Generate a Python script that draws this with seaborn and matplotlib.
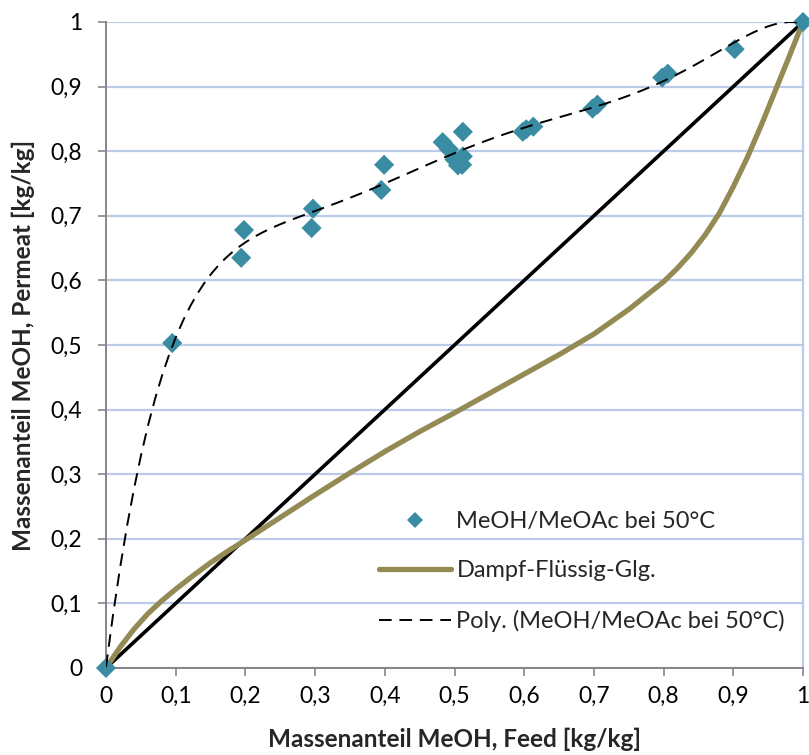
import matplotlib
matplotlib.use("Agg")
import matplotlib.pyplot as plt
import matplotlib.ticker as mticker
import seaborn as sns
import pandas as pd
from matplotlib.lines import Line2D

# ---- data ----
feed_meas = [0.0, 0.095, 0.194, 0.198, 0.295, 0.297, 0.395, 0.399,
             0.483, 0.492, 0.500, 0.505, 0.511, 0.512, 0.512,
             0.598, 0.603, 0.613, 0.698, 0.705, 0.798, 0.806, 0.902, 1.0]
perm_meas = [0.0, 0.503, 0.635, 0.678, 0.681, 0.711, 0.740, 0.779,
             0.814, 0.803, 0.787, 0.778, 0.779, 0.792, 0.830,
             0.830, 0.834, 0.838, 0.866, 0.872, 0.914, 0.920, 0.958, 1.0]

vle_x = [0.0, 0.02, 0.04, 0.06, 0.08, 0.1, 0.125, 0.15, 0.175, 0.2, 0.25,
         0.3, 0.35, 0.4, 0.45, 0.5, 0.55, 0.6, 0.65, 0.7, 0.75, 0.8, 0.82,
         0.84, 0.86, 0.88, 0.9, 0.92, 0.94, 0.96, 0.98, 1.0]
vle_y = [0.0, 0.032, 0.060, 0.084, 0.104, 0.122, 0.143, 0.163, 0.181, 0.198,
         0.233, 0.268, 0.302, 0.335, 0.366, 0.395, 0.425, 0.455, 0.485, 0.517,
         0.555, 0.598, 0.619, 0.643, 0.671, 0.704, 0.745, 0.790, 0.840, 0.893,
         0.946, 1.0]

diag_x = [0.0, 1.0]
diag_y = [0.0, 1.0]

ticks = [0, 0.1, 0.2, 0.3, 0.4, 0.5, 0.6, 0.7, 0.8, 0.9, 1.0]

lbl_meas = "MeOH/MeOAc bei 50°C"
lbl_vle = "Dampf-Flüssig-Glg."
lbl_poly = "Poly. (MeOH/MeOAc bei 50°C)"

# ---- style ----
sns.set_theme(style="white")
plt.rcParams['font.family'] = ['Lato', 'DejaVu Sans']

teal = "#3A8CA2"
olive = "#948A54"
grid_c = "#BCCBEA"
spine_c = "#868686"

fig = plt.figure(figsize=(8.09, 7.55), dpi=100)
ax = fig.add_axes([106/809, 1 - 668/755, 697/809, 646/755])

df_meas = pd.DataFrame({"x": feed_meas, "y": perm_meas})
df_vle = pd.DataFrame({"x": vle_x, "y": vle_y})
df_diag = pd.DataFrame({"x": diag_x, "y": diag_y})

sns.lineplot(data=df_diag, x="x", y="y", ax=ax, color="black", lw=2.6,
             zorder=3, sort=False)
sns.lineplot(data=df_vle, x="x", y="y", ax=ax, color=olive, lw=3.8,
             zorder=4, sort=False)
sns.scatterplot(data=df_meas, x="x", y="y", ax=ax, marker="D", s=105,
                color=teal, edgecolor="none", linewidth=0, zorder=5,
                clip_on=False)
sns.regplot(data=df_meas, x="x", y="y", ax=ax, order=6, ci=None,
            scatter=False, truncate=True,
            line_kws=dict(color="black", lw=1.4, ls=(0, (6.5, 4)), zorder=6))

ax.set_xlim(0, 1)
ax.set_ylim(0, 1)
ax.set_xticks(ticks)
ax.set_yticks(ticks)
fmt = mticker.FuncFormatter(lambda v, p: ("%g" % round(v, 1)).replace(".", ","))
ax.xaxis.set_major_formatter(fmt)
ax.yaxis.set_major_formatter(fmt)

ax.yaxis.grid(True, color=grid_c, lw=1.6)
ax.xaxis.grid(False)
ax.set_axisbelow(True)

ax.spines["top"].set_visible(False)
ax.spines["right"].set_color(grid_c)
ax.spines["right"].set_linewidth(1.6)
for s in ["left", "bottom"]:
    ax.spines[s].set_color(spine_c)
    ax.spines[s].set_linewidth(1.4)

ax.tick_params(axis="both", which="major", direction="out", length=6,
               width=1.2, color=spine_c, labelsize=16.5, labelcolor="black")
ax.tick_params(axis="x", pad=7, bottom=True)
ax.tick_params(axis="y", pad=11, left=True)

ax.set_xlabel("Massenanteil MeOH, Feed [kg/kg]", fontsize=17.5, fontweight="bold",
              labelpad=15)
ax.set_ylabel("Massenanteil MeOH, Permeat [kg/kg]", fontsize=17.5, fontweight="bold",
              labelpad=11)

handles = [
    Line2D([], [], marker="D", ls="none", color=teal, markersize=8.5,
           markeredgewidth=0),
    Line2D([], [], color=olive, lw=3.8),
    Line2D([], [], color="black", lw=1.4, ls=(0, (6.5, 4))),
]
leg = ax.legend(handles, [lbl_meas, lbl_vle, lbl_poly], loc="upper left",
                bbox_to_anchor=(0.391, 0.243), frameon=False, fontsize=17,
                handlelength=3.05, handletextpad=0.25, labelspacing=1.2,
                borderpad=0, borderaxespad=0)

fig.savefig("out.png", dpi=100)
